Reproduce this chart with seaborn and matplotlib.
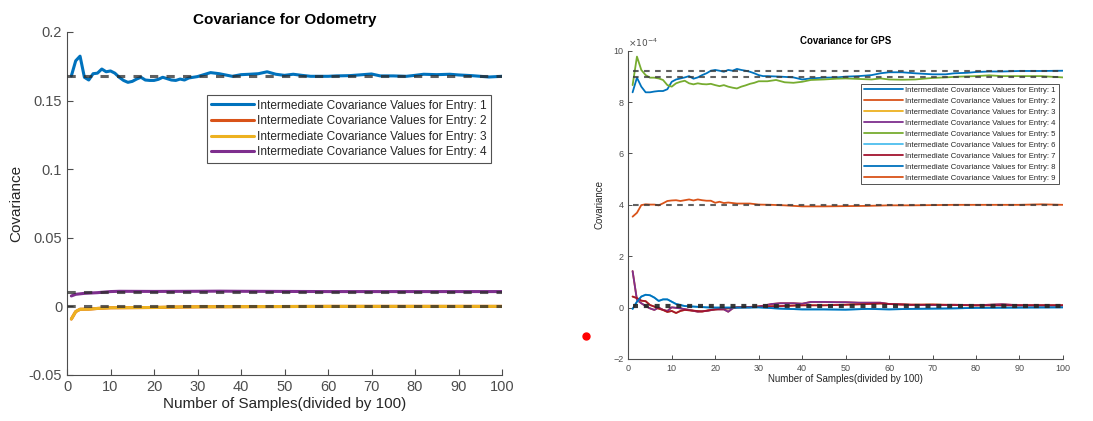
import matplotlib
matplotlib.use("Agg")
import numpy as np
import seaborn as sns
import matplotlib.pyplot as plt
from matplotlib.lines import Line2D
from matplotlib.ticker import FuncFormatter

# | Data |-------------------------------------------------------------------------------------------------------------|
odo_x1 = [1, 2, 3, 4, 5, 6, 7, 8, 9, 10, 11, 12, 13, 14, 15, 16, 17, 18, 19, 20, 21, 22, 23, 24, 25, 26, 27, 28, 29,
          30, 33, 35, 38, 40, 42, 44, 46, 48, 50, 52, 54, 56, 60, 62, 65, 68, 70, 72, 75, 78, 80, 82, 85, 88, 90, 93,
          95, 97, 100]
odo_e1 = [0.168, 0.179, 0.1824, 0.167, 0.165, 0.1696, 0.170, 0.173, 0.171, 0.1716, 0.170, 0.167, 0.1647, 0.1633,
          0.164, 0.1657, 0.167, 0.165, 0.1647, 0.1647, 0.1655, 0.167, 0.166, 0.165, 0.1647, 0.1657, 0.165, 0.1665,
          0.167, 0.1675, 0.1704, 0.1696, 0.1677, 0.1689, 0.1692, 0.1696, 0.171, 0.1692, 0.1684, 0.1692, 0.1684,
          0.1677, 0.1677, 0.168, 0.1682, 0.1689, 0.1694, 0.168, 0.168, 0.1677, 0.1684, 0.1692, 0.1689, 0.1692,
          0.1687, 0.1682, 0.1677, 0.1672, 0.1677]
odo_x3 = [1, 2, 3, 5, 7, 10, 15, 20, 25, 30, 40, 50, 60, 70, 80, 90, 100]
odo_e3 = [-0.0092, -0.0038, -0.0021, -0.002, -0.0015, -0.001, -0.0009, -0.0008, -0.0005, -0.0003, -0.0002, -0.0001,
          0.0, 0.0, 0.0, 0.0, 0.0]
odo_e2 = odo_e3
odo_x4 = [1, 2, 4, 7, 10, 12, 20, 30, 35, 40, 50, 60, 70, 80, 90, 100]
odo_e4 = [0.0076, 0.0088, 0.0095, 0.010, 0.0108, 0.011, 0.0109, 0.011, 0.0111, 0.011, 0.0109, 0.0108, 0.0108,
          0.0108, 0.0108, 0.0108]
odo_ref = [0.1679, 0.0107, 0.0]

# GPS values in units of 1e-4
gps_x1 = [1, 2, 3, 4, 5, 6, 7, 8, 9, 10, 11, 12, 13, 14, 15, 16, 17, 18, 19, 20, 21, 22, 23, 24, 25, 26, 27, 28, 29,
          30, 31, 32, 35, 38, 40, 42, 45, 48, 50, 53, 56, 58, 60, 63, 66, 70, 73, 75, 78, 80, 83, 86, 90, 95, 100]
gps_e1 = [8.38, 8.95, 8.6, 8.38, 8.38, 8.41, 8.43, 8.43, 8.5, 8.79, 8.88, 8.92, 8.96, 9.01, 8.91, 8.96, 9.05, 9.12,
          9.22, 9.25, 9.22, 9.18, 9.25, 9.22, 9.29, 9.25, 9.22, 9.18, 9.12, 9.05, 9.01, 9.01, 8.99, 8.96, 8.88, 8.92,
          8.95, 8.96, 8.99, 9.01, 9.05, 9.12, 9.16, 9.16, 9.12, 9.08, 9.08, 9.12, 9.14, 9.17, 9.19, 9.19, 9.21,
          9.21, 9.22]
gps_x5 = [1, 2, 3, 4, 5, 6, 7, 8, 9, 10, 11, 12, 13, 14, 15, 16, 17, 18, 19, 20, 21, 22, 23, 24, 25, 26, 27, 28, 29,
          30, 32, 34, 36, 38, 40, 42, 45, 48, 50, 53, 56, 58, 60, 63, 66, 70, 73, 76, 80, 83, 86, 90, 95, 100]
gps_e5 = [8.66, 9.77, 9.25, 9.05, 8.95, 8.95, 8.92, 8.86, 8.66, 8.6, 8.73, 8.79, 8.83, 8.73, 8.69, 8.73, 8.7, 8.69,
          8.71, 8.66, 8.62, 8.66, 8.6, 8.56, 8.53, 8.6, 8.65, 8.71, 8.75, 8.81, 8.81, 8.86, 8.77, 8.75, 8.79, 8.86,
          8.88, 8.91, 8.92, 8.9, 8.88, 8.92, 8.88, 8.87, 8.88, 8.94, 8.96, 8.99, 9.01, 9.04, 9.01, 9.01, 9.01, 8.96]
gps_x9 = [1, 2, 3, 4, 5, 6, 7, 8, 9, 10, 11, 12, 13, 14, 15, 16, 17, 18, 19, 20, 21, 22, 23, 25, 28, 30, 33, 36,
          38, 40, 45, 50, 55, 60, 65, 70, 75, 80, 85, 90, 95, 100]
gps_e9 = [3.54, 3.69, 3.99, 4.02, 4.01, 4.01, 3.98, 4.06, 4.15, 4.17, 4.18, 4.15, 4.18, 4.21, 4.17, 4.21, 4.18,
          4.16, 4.16, 4.08, 4.12, 4.07, 4.09, 4.05, 4.05, 4.01, 4.0, 3.98, 3.96, 3.94, 3.94, 3.95, 3.96, 3.98, 3.98,
          3.99, 4.0, 4.0, 4.0, 4.0, 4.02, 4.0]
gps_x8 = [1, 2, 3, 4, 5, 6, 7, 8, 9, 10, 11, 12, 13, 15, 18, 20, 25, 30, 35, 40, 45, 50, 55, 60, 65, 70, 75, 80, 90,
          100]
gps_e8 = [-0.05, 0.23, 0.43, 0.5, 0.48, 0.39, 0.26, 0.32, 0.32, 0.23, 0.14, 0.1, 0.06, 0.04, 0.01, 0.0, 0.0, 0.01,
          -0.04, -0.07, -0.07, -0.08, -0.05, -0.07, -0.05, -0.04, -0.03, -0.01, 0.0, 0.01]
gps_x4 = [1, 2, 3, 4, 5, 6, 7, 8, 9, 10, 12, 14, 16, 18, 20, 22, 23, 24, 25, 28, 30, 33, 35, 38, 40, 42, 45, 48, 50,
          53, 56, 58, 60, 65, 70, 75, 80, 86, 90, 100]
gps_e4 = [1.42, 0.3, 0.17, 0.06, -0.03, -0.09, 0.0, -0.09, -0.13, 0.01, -0.03, -0.09, -0.16, -0.13, -0.07, -0.07,
          -0.16, -0.03, 0.01, 0.01, 0.04, 0.14, 0.17, 0.17, 0.15, 0.22, 0.22, 0.21, 0.21, 0.19, 0.19, 0.19, 0.14,
          0.11, 0.1, 0.11, 0.09, 0.13, 0.09, 0.08]
gps_x7 = [1, 2, 3, 4, 5, 6, 7, 8, 9, 10, 11, 12, 13, 15, 17, 19, 21, 23, 25, 30, 35, 40, 45, 50, 55, 58, 60, 65, 70,
          75, 80, 85, 90, 100]
gps_e7 = [0.43, 0.37, 0.27, 0.25, 0.1, 0.04, -0.04, -0.09, -0.17, -0.13, -0.21, -0.13, -0.09, -0.12, -0.15, -0.09,
          -0.05, -0.03, 0.01, 0.04, 0.06, 0.09, 0.09, 0.11, 0.14, 0.16, 0.14, 0.11, 0.12, 0.1, 0.09, 0.09, 0.09, 0.09]
gps_e2 = gps_e4
gps_e3 = gps_e7
gps_e6 = gps_e8
gps_ref = [9.22, 8.96, 4.0]
gps_ref_zero = 0.05

colors = ["#0072BD", "#D95319", "#EDB120", "#7E2F8E", "#77AC30", "#4DBEEE", "#A2142F", "#0072BD", "#D95319"]
# |--------------------------------------------------------------------------------------------------------------------|

sns.set_theme(style="ticks")
plt.rcParams["font.family"] = ["Liberation Sans", "DejaVu Sans"]
txt = "#262626"
tick_col = "#4d4d4d"

fig = plt.figure(figsize=(10.93, 4.21), dpi=100)

# | Odometry |---------------------------------------------------------------------------------------------------------|
ax1 = fig.add_axes([0.0613, 0.1093, 0.398, 0.8147])
odo_series = [(odo_x1, odo_e1), (odo_x3, odo_e2), (odo_x3, odo_e3), (odo_x4, odo_e4)]
for i, (xs, ys) in enumerate(odo_series):
    sns.lineplot(x=xs, y=ys, ax=ax1, color=colors[i], lw=2.2,
                 label=f"Intermediate Covariance Values for Entry: {i + 1}")
for r in odo_ref:
    ax1.plot([0, 100], [r, r], ls=(0, (2.7, 2.7)), color="#2b2b2b", lw=2.2, alpha=0.75, zorder=5)
ax1.set_xlim(0, 100)
ax1.set_ylim(-0.05, 0.2)
ax1.set_xticks(range(0, 101, 10))
ax1.set_yticks([-0.05, 0, 0.05, 0.1, 0.15, 0.2])
ax1.yaxis.set_major_formatter(FuncFormatter(lambda v, p: f"{v:g}"))
ax1.set_title("Covariance for Odometry", fontsize=11, fontweight="bold", color="black", pad=6)
ax1.set_xlabel("Number of Samples(divided by 100)", fontsize=11, color=txt, labelpad=2)
ax1.set_ylabel("Covariance", fontsize=11, color=txt, labelpad=4)
ax1.tick_params(direction="in", labelsize=10.5, colors=tick_col, length=4, width=0.8)
leg1 = ax1.legend(loc="upper right", bbox_to_anchor=(0.975, 0.815), fontsize=8.6, frameon=True, fancybox=False,
                  handlelength=3.6, handletextpad=0.3, borderpad=0.35, labelspacing=0.3, borderaxespad=0)
leg1.get_frame().set_edgecolor("#262626")
leg1.get_frame().set_linewidth(0.8)
for t in leg1.get_texts():
    t.set_color(txt)

# | GPS |--------------------------------------------------------------------------------------------------------------|
ax2 = fig.add_axes([0.5748, 0.1473, 0.3977, 0.7323])
gps_series = [(gps_x1, gps_e1), (gps_x4, gps_e2), (gps_x7, gps_e3), (gps_x4, gps_e4), (gps_x5, gps_e5),
              (gps_x8, gps_e6), (gps_x7, gps_e7), (gps_x8, gps_e8), (gps_x9, gps_e9)]
for i, (xs, ys) in enumerate(gps_series):
    sns.lineplot(x=xs, y=ys, ax=ax2, color=colors[i], lw=1.3,
                 label=f"Intermediate Covariance Values for Entry: {i + 1}")
for r in gps_ref:
    ax2.plot([1, 100], [r, r], ls=(0, (2.7, 2.6)), color="#3a3a3a", lw=1.5, alpha=0.8, zorder=5)
ax2.plot([1, 100], [gps_ref_zero, gps_ref_zero], ls=(0, (1.2, 1.4)), color="#262626", lw=3.0, alpha=0.9, zorder=5)
ax2.set_xlim(0, 100)
ax2.set_ylim(-2, 10)
ax2.set_xticks(range(0, 101, 10))
ax2.set_yticks(range(-2, 11, 2))
ax2.set_title("Covariance for GPS", fontsize=7, fontweight="bold", color="black", pad=5)
ax2.set_xlabel("Number of Samples(divided by 100)", fontsize=7, color=txt, labelpad=1)
ax2.set_ylabel("Covariance", fontsize=7, color=txt, labelpad=6)
ax2.tick_params(direction="in", labelsize=6.5, colors=tick_col, length=3, width=0.7)
ax2.text(0.0, 1.005, r"$\times10^{-4}$", transform=ax2.transAxes, fontsize=6.5, color=tick_col,
         ha="left", va="bottom")
leg2 = ax2.legend(loc="upper right", bbox_to_anchor=(0.99, 0.892), fontsize=5.6, frameon=True, fancybox=False,
                  handlelength=5.0, handletextpad=0.3, borderpad=0.35, labelspacing=0.45, borderaxespad=0)
leg2.get_frame().set_edgecolor("#262626")
leg2.get_frame().set_linewidth(0.7)
for t in leg2.get_texts():
    t.set_color(txt)

for ax in (ax1, ax2):
    sns.despine(ax=ax)
    for s in ("left", "bottom"):
        ax.spines[s].set_color(tick_col)
        ax.spines[s].set_linewidth(0.8)

# stray red dot in the original figure
fig.add_artist(Line2D([586 / 1093], [1 - 336 / 421], marker="o", ms=5, color="red", lw=0,
                      transform=fig.transFigure))

fig.savefig("out.png", dpi=100)
